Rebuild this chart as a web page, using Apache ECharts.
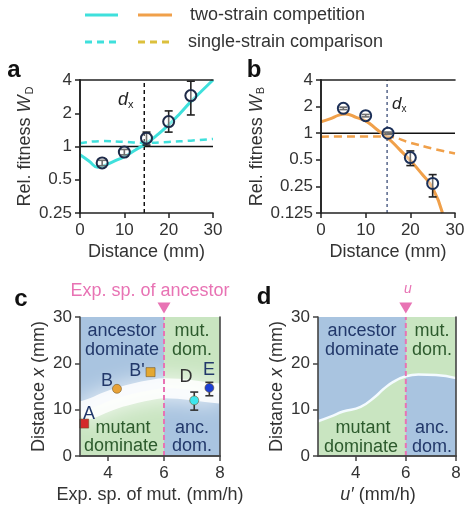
<!DOCTYPE html>
<html lang="en">
<head>
<meta charset="UTF-8">
<title>Relative fitness panels</title>
<script src="https://cdn.jsdelivr.net/npm/echarts@6/dist/echarts.min.js"></script>
<style>
  body { margin: 0; background: #fff; }
  #main { width: 470px; height: 506px; }
</style>
</head>
<body>
<div id="main"></div>
<script>
// ---- panel a : mutant D ----
var distance = [5, 10, 15, 20, 25];
var fitnessD = [0.71, 0.89, 1.19, 1.68, 2.89];
var fitnessDLow = [0.67, 0.84, 1.03, 1.35, 1.93];
var fitnessDHigh = [0.75, 0.94, 1.35, 2.1, 3.9];
var curveDistA = [0, 2, 4, 5, 7.5, 10, 12.5, 15, 17.5, 20, 22.5, 25, 27.5, 30];
var twoStrainD = [0.84, 0.74, 0.65, 0.66, 0.73, 0.81, 0.93, 1.07, 1.28, 1.57, 1.98, 2.55, 3.2, 4.0];
var singleDist = [0, 5, 10, 15, 20, 25, 30];
var singleStrainD = [1.07, 1.12, 1.1, 1.08, 1.1, 1.13, 1.17];
var dxA = 14.5;

// ---- panel b : mutant B ----
var fitnessB = [1.91, 1.58, 1.0, 0.53, 0.27];
var fitnessBLow = [1.85, 1.53, 0.97, 0.43, 0.19];
var fitnessBHigh = [1.97, 1.63, 1.03, 0.63, 0.34];
var curveDistB = [0, 2, 4, 5.5, 8, 10, 12.5, 15, 17.5, 20, 22.5, 25, 27.2];
var twoStrainB = [1.35, 1.45, 1.6, 1.65, 1.5, 1.38, 1.1, 0.88, 0.66, 0.49, 0.35, 0.24, 0.125];
var singleStrainB = [0.91, 0.92, 0.92, 0.91, 0.78, 0.67, 0.59];
var dxB = 14.8;

// ---- panel c : measured crossover distance ----
var strainNames = ['A', 'B', "B'", 'D', 'E'];
var mutSpeed = [3.15, 4.32, 5.52, 7.08, 7.62];
var crossDist = [7, 14.5, 18.1, 12, 14.7];
var crossLow = [null, null, null, 9.9, 13.0];
var crossHigh = [null, null, null, 13.8, 15.9];
var ancestorSpeed = 6;
var hazeLeftX = [3, 3.5, 4, 4.5, 5, 5.5, 6];
var hazeLeftY = [9.5, 10.5, 11.8, 12.8, 13.6, 14.2, 14.6];
var hazeRightX = [6, 6.5, 7, 7.5, 8];
var hazeRightY = [14.6, 14.5, 14.2, 13.8, 13.5];

// ---- panel d : model boundary ----
var uPrimeLeft = [2.5, 3.0, 3.5, 4.2, 4.8, 5.1, 5.5, 6.0];
var boundLeft = [7.5, 8.5, 9.6, 10.6, 12.9, 14.4, 16.0, 17.2];
var uPrimeRight = [6.0, 6.5, 7.2, 8.0];
var boundRight = [17.2, 17.6, 17.5, 16.8];

var markerSymbols = ['rect', 'circle', 'rect', 'circle', 'circle'];
var markerColors = ['#d42a2a', '#e8a238', '#e4a832', '#3ee6ee', '#1b3fd4'];

var cyan = '#3fe0dc';
var orange = '#f0a04a';
var pink = '#e873b4';
var blueBg = '#a9c4e0';
var greenBg = '#c9e5c1';
var navy = '#22386a';
var dkgreen = '#2c5a2c';
var txt = '#333';
var font = 'Liberation Sans';

function zip(xs, ys) { return xs.map(function (x, i) { return [x, ys[i]]; }); }

function errorBars(xs, lo, hi, xi, yi, color) {
  var data = [];
  xs.forEach(function (x, i) { if (lo[i] != null) data.push([x, lo[i], hi[i]]); });
  return {
    type: 'custom', xAxisIndex: xi, yAxisIndex: yi, z: 4,
    encode: { x: 0, y: [1, 2] },
    renderItem: function (params, api) {
      var p1 = api.coord([api.value(0), api.value(1)]);
      var p2 = api.coord([api.value(0), api.value(2)]);
      var w = 4;
      var st = { stroke: color, lineWidth: 1.6 };
      return { type: 'group', children: [
        { type: 'line', shape: { x1: p1[0], y1: p1[1], x2: p2[0], y2: p2[1] }, style: st },
        { type: 'line', shape: { x1: p1[0] - w, y1: p1[1], x2: p1[0] + w, y2: p1[1] }, style: st },
        { type: 'line', shape: { x1: p2[0] - w, y1: p2[1], x2: p2[0] + w, y2: p2[1] }, style: st }
      ]};
    },
    data: data
  };
}

function lineSeries(xi, yi, data, color, width, type, extra) {
  var s = {
    type: 'line', xAxisIndex: xi, yAxisIndex: yi, data: data, symbol: 'none',
    lineStyle: { color: color, width: width, type: type || 'solid' }, z: 3, silent: true
  };
  for (var k in extra) s[k] = extra[k];
  return s;
}

function mainX(grid, min, max, interval, name, color, custom, namePad) {
  var ax = {
    gridIndex: grid, type: 'value', min: min, max: max, interval: interval, z: 10,
    axisLine: { lineStyle: { color: color, width: 1.6 } },
    axisTick: { length: 5, lineStyle: { color: color, width: 1.5 } },
    axisLabel: { fontFamily: font, fontSize: 17, color: txt, margin: 9 },
    splitLine: { show: false },
    name: name, nameLocation: 'middle', nameGap: 30,
    nameTextStyle: { fontFamily: font, fontSize: 18, color: txt, padding: namePad || 0, rich: {
      n: { fontFamily: font, fontSize: 18, color: txt },
      i: { fontFamily: font, fontSize: 18, color: txt, fontStyle: 'italic' }
    } }
  };
  if (custom) {
    ax.axisLabel.customValues = custom;
    ax.axisTick.customValues = custom;
  }
  return ax;
}
function frameAxis(grid, pos, color) {
  return {
    gridIndex: grid, type: 'value', min: 0, max: 1, position: pos, z: 10,
    axisLine: { show: true, lineStyle: { color: color, width: 1.6 } },
    axisTick: { show: false }, axisLabel: { show: false }, splitLine: { show: false }
  };
}
function mainY(grid, type, min, max, interval, name, gap, color) {
  var ax = {
    gridIndex: grid, type: type, min: min, max: max, z: 10,
    axisLine: { show: true, lineStyle: { color: color, width: 1.6 } },
    axisTick: { show: true, length: 5, lineStyle: { color: color, width: 1.5 } },
    axisLabel: { fontFamily: font, fontSize: 17, color: txt, margin: 8 },
    splitLine: { show: false },
    name: name, nameLocation: 'middle', nameGap: gap, nameRotate: 90,
    nameTextStyle: { fontFamily: font, fontSize: 18, color: txt, rich: {
      n: { fontFamily: font, fontSize: 18, color: txt, lineHeight: 20 },
      i: { fontFamily: font, fontSize: 18, color: txt, fontStyle: 'italic', lineHeight: 20 },
      s: { fontFamily: font, fontSize: 11, color: txt, lineHeight: 12, verticalAlign: 'bottom', padding: [0, 0, 0, 1] }
    } }
  };
  if (type === 'log') ax.logBase = 2; else ax.interval = interval;
  return ax;
}

var option = {
  animation: false,
  backgroundColor: '#fff',
  textStyle: { fontFamily: font },
  grid: [
    { left: 80, top: 80, width: 133, height: 133 },
    { left: 321, top: 80, width: 134, height: 133 },
    { left: 80, top: 317, width: 140, height: 139, show: true, backgroundColor: blueBg, borderWidth: 0 },
    { left: 318, top: 317, width: 138, height: 139, show: true, backgroundColor: blueBg, borderWidth: 0 }
  ],
  xAxis: [
    mainX(0, 0, 30, 10, 'Distance (mm)', '#222'),
    frameAxis(0, 'top', '#222'),
    mainX(1, 0, 30, 10, 'Distance (mm)', '#222'),
    frameAxis(1, 'top', '#222'),
    mainX(2, 3, 8, 1, 'Exp. sp. of mut. (mm/h)', '#444', [4, 6, 8]),
    frameAxis(2, 'top', '#444'),
    mainX(3, 2.5, 8, 0.5, "{i|u\u2032} (mm/h)", '#444', [4, 6, 8], [0, 18, 0, 0]),
    frameAxis(3, 'top', '#444')
  ],
  yAxis: [
    mainY(0, 'log', 0.25, 4, null, '{n|Rel. fitness }{i|W}{s|D}', 36, '#222'),
    frameAxis(0, 'right', '#222'),
    mainY(1, 'log', 0.125, 4, null, '{n|Rel. fitness }{i|W}{s|B}', 42, '#222'),
    frameAxis(1, 'right', '#222'),
    mainY(2, 'value', 0, 30, 10, '{n|Distance }{i|x}{n| (mm)}', 31, '#444'),
    frameAxis(2, 'right', '#444'),
    mainY(3, 'value', 0, 30, 10, '{n|Distance }{i|x}{n| (mm)}', 31, '#444'),
    frameAxis(3, 'right', '#444')
  ],
  series: [
    // panel a
    lineSeries(0, 0, [[0, 1], [30, 1]], '#111', 1.6),
    lineSeries(0, 0, [[dxA, 0.25], [dxA, 4]], '#111', 1.5, [4, 3]),
    lineSeries(0, 0, zip(singleDist, singleStrainD), cyan, 2.5, [7, 5], { smooth: true }),
    lineSeries(0, 0, zip(curveDistA, twoStrainD), cyan, 3, 'solid', { smooth: true }),
    errorBars(distance, fitnessDLow, fitnessDHigh, 0, 0, '#222'),
    { type: 'scatter', xAxisIndex: 0, yAxisIndex: 0, z: 5, data: zip(distance, fitnessD),
      symbol: 'circle', symbolSize: 11,
      itemStyle: { color: 'rgba(255,255,255,0.35)', borderColor: '#1e2a48', borderWidth: 2, opacity: 1 } },
    // panel b
    lineSeries(2, 2, [[0, 1], [30, 1]], '#111', 1.6),
    lineSeries(2, 2, [[dxB, 0.125], [dxB, 4]], '#56658a', 1.5, [3, 3]),
    lineSeries(2, 2, zip(singleDist, singleStrainB), orange, 2.5, [8, 5], { smooth: true }),
    lineSeries(2, 2, zip(curveDistB, twoStrainB), orange, 3, 'solid', { smooth: true }),
    errorBars(distance, fitnessBLow, fitnessBHigh, 2, 2, '#222'),
    { type: 'scatter', xAxisIndex: 2, yAxisIndex: 2, z: 5, data: zip(distance, fitnessB),
      symbol: 'circle', symbolSize: 11,
      itemStyle: { color: 'rgba(255,255,255,0.35)', borderColor: '#1c3058', borderWidth: 2, opacity: 1 } },
    // panel c background regions
    lineSeries(4, 4, zip(hazeLeftX, hazeLeftY), 'transparent', 0, 'solid',
      { smooth: true, z: 1, areaStyle: { color: greenBg, origin: 'start', opacity: 1 } }),
    lineSeries(4, 4, zip(hazeRightX, hazeRightY), 'transparent', 0, 'solid',
      { smooth: true, z: 1, areaStyle: { color: greenBg, origin: 'end', opacity: 1 } }),
    lineSeries(4, 4, zip(hazeLeftX, hazeLeftY).concat(zip(hazeRightX, hazeRightY).slice(1)),
      'rgba(255,255,255,0.9)', 20, 'solid',
      { smooth: true, z: 2, lineStyle: { color: 'rgba(255,255,255,0.85)', width: 20, shadowBlur: 22, shadowColor: '#ffffff' } }),
    lineSeries(4, 4, [[ancestorSpeed, 0], [ancestorSpeed, 30]], pink, 2, [5, 3], {
      z: 6,
      markPoint: { symbol: 'triangle', symbolRotate: 180, symbolSize: [13, 11], symbolOffset: [0, -9],
        itemStyle: { color: pink }, label: { show: false },
        data: [{ coord: [ancestorSpeed, 30] }] }
    }),
    errorBars(mutSpeed, crossLow, crossHigh, 4, 4, '#333'),
    { type: 'scatter', xAxisIndex: 4, yAxisIndex: 4, z: 6,
      data: mutSpeed.map(function (x, i) {
        return { value: [x, crossDist[i]], symbol: markerSymbols[i],
          itemStyle: { color: markerColors[i] } };
      }),
      symbolSize: 9, itemStyle: { borderColor: 'rgba(110,80,30,0.55)', borderWidth: 1, opacity: 1 } },
    // panel d background regions
    lineSeries(6, 6, zip(uPrimeLeft, boundLeft), 'transparent', 0, 'solid',
      { smooth: true, z: 1, areaStyle: { color: greenBg, origin: 'start', opacity: 1 } }),
    lineSeries(6, 6, zip(uPrimeRight, boundRight), 'transparent', 0, 'solid',
      { smooth: true, z: 1, areaStyle: { color: greenBg, origin: 'end', opacity: 1 } }),
    lineSeries(6, 6, zip(uPrimeLeft, boundLeft).concat(zip(uPrimeRight, boundRight).slice(1)),
      '#f4fbff', 2.5, 'solid', { smooth: true, z: 2 }),
    lineSeries(6, 6, [[ancestorSpeed, 0], [ancestorSpeed, 30]], pink, 2, [5, 3], {
      z: 6,
      markPoint: { symbol: 'triangle', symbolRotate: 180, symbolSize: [13, 11], symbolOffset: [0, -9],
        itemStyle: { color: pink }, label: { show: false },
        data: [{ coord: [ancestorSpeed, 30] }] }
    })
  ],
  graphic: [
    // legend
    { type: 'line', shape: { x1: 85, y1: 15, x2: 118, y2: 15 }, style: { stroke: cyan, lineWidth: 3 } },
    { type: 'line', shape: { x1: 138, y1: 15, x2: 172, y2: 15 }, style: { stroke: orange, lineWidth: 3 } },
    { type: 'line', shape: { x1: 85, y1: 42, x2: 118, y2: 42 }, style: { stroke: cyan, lineWidth: 3, lineDash: [7, 5] } },
    { type: 'line', shape: { x1: 138, y1: 42, x2: 172, y2: 42 }, style: { stroke: '#dcc03c', lineWidth: 3, lineDash: [7, 5] } },
    { type: 'text', x: 190, y: 15, style: { text: 'two-strain competition', font: '18px ' + font, fill: txt, verticalAlign: 'middle', textVerticalAlign: 'middle' } },
    { type: 'text', x: 188, y: 42, style: { text: 'single-strain comparison', font: '18px ' + font, fill: txt, verticalAlign: 'middle', textVerticalAlign: 'middle' } },
    // panel letters
    { type: 'text', x: 14, y: 70, style: { text: 'a', font: 'bold 24px ' + font, fill: '#111', align: 'center', verticalAlign: 'middle', textAlign: 'center', textVerticalAlign: 'middle' } },
    { type: 'text', x: 254, y: 70, style: { text: 'b', font: 'bold 24px ' + font, fill: '#111', align: 'center', verticalAlign: 'middle', textAlign: 'center', textVerticalAlign: 'middle' } },
    { type: 'text', x: 21, y: 299, style: { text: 'c', font: 'bold 24px ' + font, fill: '#111', align: 'center', verticalAlign: 'middle', textAlign: 'center', textVerticalAlign: 'middle' } },
    { type: 'text', x: 264, y: 297, style: { text: 'd', font: 'bold 24px ' + font, fill: '#111', align: 'center', verticalAlign: 'middle', textAlign: 'center', textVerticalAlign: 'middle' } },
    // d_x labels
    { type: 'text', x: 118, y: 100, z: 20, style: { text: '{d|d}{s|x}', verticalAlign: 'middle', textVerticalAlign: 'middle',
      rich: { d: { font: 'italic 18px ' + font, fill: '#222', lineHeight: 20 }, s: { font: '11px ' + font, fill: '#222', lineHeight: 12, verticalAlign: 'bottom' } } } },
    { type: 'text', x: 392, y: 104, z: 20, style: { text: '{d|d}{s|x}', verticalAlign: 'middle', textVerticalAlign: 'middle',
      rich: { d: { font: 'italic 17px ' + font, fill: '#222', lineHeight: 20 }, s: { font: '10px ' + font, fill: '#222', lineHeight: 12, verticalAlign: 'bottom' } } } },
    // panel c / d annotations above the plots
    { type: 'text', x: 150, y: 291, style: { text: 'Exp. sp. of ancestor', font: '18px ' + font, fill: pink, align: 'center', verticalAlign: 'middle', textAlign: 'center', textVerticalAlign: 'middle' } },
    { type: 'text', x: 408, y: 289, style: { text: 'u', font: 'italic 14px ' + font, fill: pink, align: 'center', verticalAlign: 'middle', textAlign: 'center', textVerticalAlign: 'middle' } }
  ]
};

// region captions in c and d
var regionText = [
  [122, 331, 'ancestor', navy], [122, 350, 'dominate', navy], [192, 331, 'mut.', dkgreen], [192, 350, 'dom.', dkgreen],
  [123, 428, 'mutant', dkgreen], [121, 446, 'dominate', dkgreen], [192, 428, 'anc.', navy], [192, 446, 'dom.', navy],
  [362, 331, 'ancestor', navy], [362, 350, 'dominate', navy], [432, 331, 'mut.', dkgreen], [432, 350, 'dom.', dkgreen],
  [363, 428, 'mutant', dkgreen], [361, 447, 'dominate', dkgreen], [432, 428, 'anc.', navy], [432, 447, 'dom.', navy]
];
regionText.forEach(function (r) {
  option.graphic.push({ type: 'text', x: r[0], y: r[1], z: 20, style: { text: r[2], font: '18px ' + font, fill: r[3],
    align: 'center', verticalAlign: 'middle', textAlign: 'center', textVerticalAlign: 'middle' } });
});
// strain letters next to the points in c
var letterPos = [[89, 414], [107, 381], [137, 371], [186, 377], [209, 370]];
strainNames.forEach(function (n, i) {
  option.graphic.push({ type: 'text', x: letterPos[i][0], y: letterPos[i][1], z: 20, style: { text: n, font: '18px ' + font, fill: i === 3 ? '#333' : navy,
    align: 'center', verticalAlign: 'middle', textAlign: 'center', textVerticalAlign: 'middle' } });
});

var chart = echarts.init(document.getElementById('main'));
chart.setOption(option);
</script>
</body>
</html>
